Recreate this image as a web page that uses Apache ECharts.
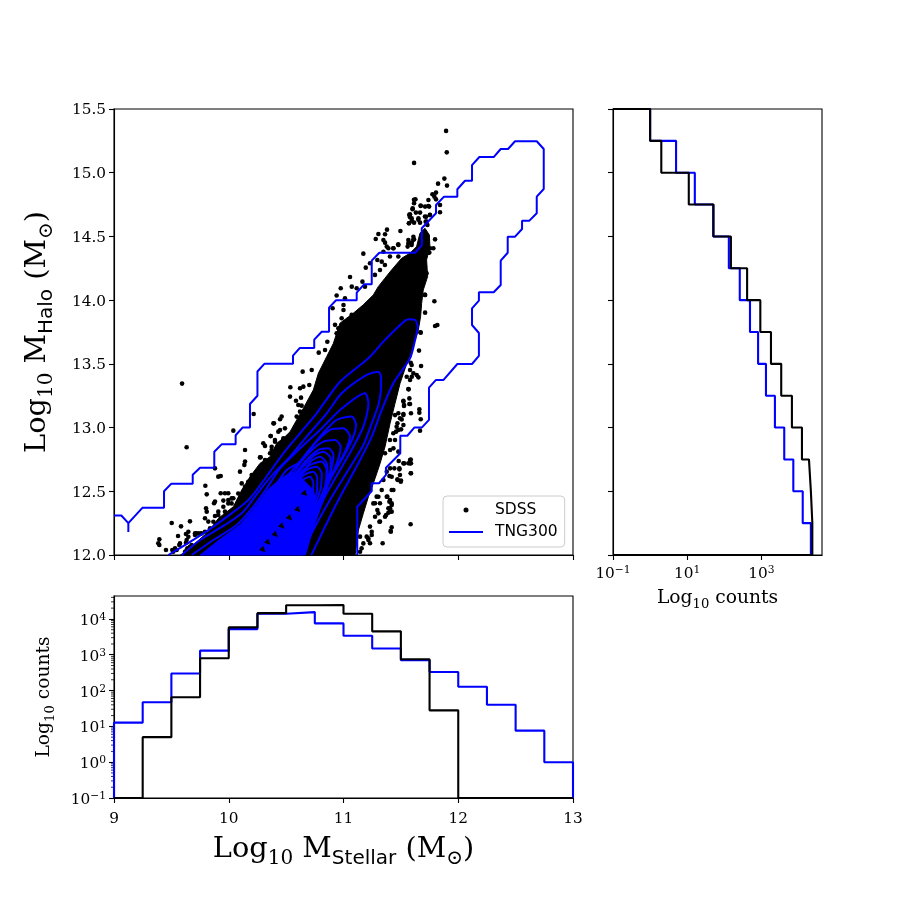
<!DOCTYPE html>
<html>
<head>
<meta charset="utf-8">
<title>SDSS vs TNG300</title>
<script src="https://cdn.jsdelivr.net/npm/echarts@6/dist/echarts.min.js"></script>
<style>
html, body { margin: 0; padding: 0; background: #fff; }
#chart { width: 913px; height: 913px; }
</style>
</head>
<body>
<div id="chart"></div>
<script>
// histogram bins, 0.25 dex wide
var stellarBinStart = 9;
var haloBinStart = 12;
var binWidth = 0.25;
var stellarSdss = [0, 5, 65, 800, 5800, 14500, 24000, 24500, 14000, 4500, 750, 28, 0, 0, 0, 0];
var stellarTng = [12.7, 47, 300, 1300, 5200, 14000, 15500, 7500, 3400, 1500, 700, 330, 128, 40, 7.6, 1];
var haloSdss = [23400, 21400, 19000, 12300, 6600, 3400, 1800, 930, 410, 150, 51, 11, 2, 1];
var haloTng = [21400, 12900, 7200, 4100, 2300, 1320, 810, 490, 260, 132, 50, 16, 5, 1];

var countTicksRight = [0.1, 10, 1000];
var countTicksBottom = [0.1, 1, 10, 100, 1000, 10000];
var countMinorTicks = [0.2, 0.3, 0.4, 0.5, 0.6, 0.7, 0.8, 0.9, 2, 3, 4, 5, 6, 7, 8, 9, 20, 30, 40, 50, 60, 70, 80, 90,
	200, 300, 400, 500, 600, 700, 800, 900, 2000, 3000, 4000, 5000, 6000, 7000, 8000, 9000, 20000, 30000, 40000];

// dense part of the SDSS cloud, outline only
var sdssCore = [[9.58, 12], [9.604, 12.013], [9.706, 12.091], [9.822, 12.183], [9.909, 12.287], [10.04, 12.379],
	[10.113, 12.51], [10.185, 12.614], [10.272, 12.719], [10.36, 12.771], [10.418, 12.876], [10.49, 12.928],
	[10.534, 12.967], [10.65, 13.151], [10.737, 13.295], [10.781, 13.426], [10.854, 13.557], [10.912, 13.661],
	[10.969, 13.819], [11.085, 13.897], [11.172, 13.963], [11.26, 14.041], [11.303, 14.106], [11.361, 14.172],
	[11.419, 14.237], [11.507, 14.329], [11.579, 14.368], [11.637, 14.42], [11.666, 14.525], [11.71, 14.564],
	[11.748, 14.512], [11.753, 14.42], [11.724, 14.316], [11.733, 14.185], [11.695, 14.08], [11.681, 13.976],
	[11.672, 13.871], [11.652, 13.766], [11.624, 13.687], [11.586, 13.582], [11.542, 13.478], [11.493, 13.347],
	[11.449, 13.19], [11.406, 13.033], [11.362, 12.85], [11.319, 12.719], [11.26, 12.562], [11.217, 12.457],
	[11.173, 12.327], [11.13, 12.196], [11.101, 12]];

var sdssPoints = [[11.894, 15.328], [11.9, 15.16], [11.615, 15.077], [11.879, 14.954], [11.824, 14.914], [11.902, 14.899],
	[11.806, 14.844], [11.775, 14.831], [11.792, 14.812], [11.806, 14.791], [11.74, 14.786], [11.627, 14.791],
	[11.615, 14.76], [11.603, 14.721], [11.673, 14.739], [11.711, 14.734], [11.746, 14.734], [11.841, 14.747],
	[11.667, 14.687], [11.841, 14.69], [11.58, 14.674], [11.58, 14.65], [11.72, 14.655], [11.754, 14.668],
	[11.653, 14.642], [11.595, 14.624], [11.571, 14.603], [11.615, 14.608], [11.667, 14.608], [11.716, 14.616],
	[11.731, 14.59], [11.379, 14.553], [11.304, 14.519], [11.362, 14.517], [11.496, 14.543], [11.281, 14.48],
	[11.348, 14.472], [11.362, 14.451], [11.377, 14.42], [11.609, 14.498], [11.565, 14.472], [11.595, 14.451],
	[11.615, 14.477], [11.798, 14.477], [11.565, 14.446], [11.478, 14.433], [11.173, 14.365], [11.231, 14.289],
	[11.295, 14.315], [11.333, 14.302], [11.194, 14.255], [11.057, 14.182], [11.165, 14.145], [11.072, 14.106],
	[11.115, 14.093], [10.976, 14.093], [11.792, 13.991], [11.711, 13.902], [11.798, 13.797], [11.818, 13.805],
	[11.67, 13.748], [11.711, 14.041], [11.435, 14.407], [11.391, 14.407], [11.754, 14.407], [11.783, 14.407],
	[11.74, 14.373], [11.348, 14.38],
	[9.593, 13.345], [9.633, 12.845], [10.04, 12.976], [10.217, 13.107], [10.142, 12.824], [10.142, 12.733],
	[10.136, 12.707], [10.098, 12.654], [9.88, 12.68], [9.909, 12.615], [9.93, 12.62], [9.796, 12.544],
	[9.808, 12.476], [9.93, 12.484], [9.967, 12.484], [9.996, 12.484], [9.88, 12.419], [9.872, 12.406],
	[9.953, 12.427], [10.04, 12.445], [9.996, 12.432], [9.802, 12.366], [9.808, 12.34], [9.909, 12.34],
	[9.88, 12.306], [9.793, 12.288], [9.822, 12.262], [9.662, 12.264], [9.503, 12.251], [9.584, 12.225],
	[9.648, 12.183], [9.627, 12.165], [9.558, 12.149], [9.395, 12.123], [9.386, 12.092], [9.395, 12.079],
	[9.569, 12.079], [9.453, 12.039], [9.508, 12.039], [9.72, 12.17], [9.764, 12.17], [9.639, 12.052],
	[9.619, 12.026], [9.677, 12.079], [10.389, 13.033], [10.461, 13.086], [10.447, 13.065], [10.365, 12.934],
	[10.447, 12.981], [10.49, 12.994], [10.432, 12.968], [10.301, 12.877], [10.316, 12.856], [10.403, 12.903],
	[10.476, 12.916], [10.374, 12.85], [10.418, 12.837], [10.461, 12.863], [10.278, 12.767], [10.316, 12.746],
	[10.36, 12.798], [10.389, 12.811], [10.537, 13.316], [10.534, 13.243], [10.586, 13.211], [10.63, 13.235],
	[10.644, 13.439], [10.723, 13.452], [10.621, 13.308], [10.65, 13.321], [10.702, 13.334], [10.606, 13.177],
	[10.635, 13.172], [10.621, 13.125], [10.592, 13.086], [10.65, 13.112], [10.784, 13.588], [10.839, 13.609],
	[10.859, 13.674],
	[11.676, 13.483], [11.658, 13.604], [11.673, 13.745], [11.638, 13.413], [11.594, 13.491], [11.609, 13.426],
	[11.58, 13.374], [11.568, 13.3], [11.522, 13.204], [11.574, 13.185], [11.527, 13.17], [11.661, 13.143],
	[11.661, 13.117], [11.588, 13.112], [11.673, 13.065], [11.522, 13.099], [11.478, 13.112], [11.492, 13.073],
	[11.522, 13.02], [11.478, 12.981], [11.667, 12.976], [11.463, 13.007], [11.434, 12.955], [11.405, 12.903],
	[11.58, 12.746], [11.588, 12.72], [11.522, 12.72], [11.565, 12.72], [11.481, 12.738], [11.443, 12.68],
	[11.487, 12.68], [11.588, 12.641], [11.492, 12.628], [11.472, 12.589], [11.501, 12.584], [11.42, 12.51],
	[11.382, 12.458], [11.405, 12.432], [11.42, 12.393], [11.391, 12.366], [11.371, 12.314], [11.405, 12.34],
	[11.318, 12.262], [11.585, 12.241], [11.42, 12.217], [11.411, 12.189], [11.341, 12.092], [11.231, 12.223],
	[11.246, 12.183], [11.216, 12.131], [11.231, 12.092], [11.202, 12.144], [11.1, 12.092], [11.057, 12.052],
	[10.999, 12.026], [11.158, 12.052], [11.289, 12.458], [11.318, 12.406], [11.304, 12.327], [11.275, 12.406]];

// dots hugging the edge of the dense part
var sdssFringe = [[11.614, 14.787], [11.672, 14.742], [11.739, 14.739], [11.602, 14.713], [11.631, 14.687], [11.573, 14.669],
	[11.594, 14.643], [11.57, 14.603], [11.652, 14.63], [11.71, 14.656], [11.753, 14.669], [11.724, 14.616],
	[11.434, 14.407], [11.477, 14.439], [11.608, 14.473], [11.559, 14.42], [11.594, 14.433], [11.739, 14.407],
	[11.71, 14.381], [11.748, 14.373], [11.405, 14.342], [11.478, 14.342], [11.724, 14.211], [11.71, 14.263],
	[11.71, 14.041], [11.672, 14.067], [10.94, 14.036], [11.013, 14.015], [10.905, 13.936], [11, 13.962],
	[11, 13.923], [10.984, 13.858], [11.071, 13.884], [10.926, 13.806], [10.955, 13.779], [10.94, 13.74],
	[11.318, 14.237], [11.361, 14.276], [11.274, 14.198], [11.187, 14.106],
	[11.653, 13.394], [11.586, 13.509], [11.58, 13.452], [11.595, 13.399], [11.551, 13.399], [11.565, 13.302],
	[11.522, 13.211], [11.528, 13.177], [11.574, 13.229], [11.58, 13.185], [11.522, 13.106], [11.449, 13.098],
	[11.507, 13.064], [11.47, 13.033], [11.502, 12.986], [11.458, 12.968], [11.449, 12.902], [11.435, 12.837],
	[11.478, 12.811], [11.406, 12.824], [11.586, 12.75], [11.58, 12.719], [11.528, 12.719], [11.487, 12.672],
	[11.586, 12.641], [11.4, 12.62], [11.42, 12.614], [11.47, 12.594], [11.499, 12.575], [11.435, 12.51],
	[11.377, 12.457], [11.4, 12.418], [11.42, 12.405], [11.406, 12.366], [11.391, 12.332], [11.362, 12.3],
	[11.42, 12.34], [11.313, 12.261], [11.412, 12.183], [11.246, 12.157], [11.217, 12.117], [11.144, 12.144],
	[11.173, 12.091], [11.144, 12.026], [11.26, 12.405], [11.295, 12.353], [11.275, 12.3], [11.304, 12.457],
	[11.333, 12.51], [11.348, 12.588], [11.377, 12.654], [11.406, 12.68], [11.362, 12.798],
	[9.735, 12.169], [9.706, 12.157], [9.633, 12.117], [9.627, 12.096], [10.394, 13.033], [10.365, 12.933],
	[10.403, 12.889], [10.432, 12.85], [10.49, 12.85], [10.374, 12.824], [10.272, 12.766], [10.2, 12.627],
	[10.243, 12.64], [10.17, 12.575], [10.113, 12.562], [10.142, 12.536], [10.083, 12.483], [10.025, 12.444],
	[9.996, 12.405], [9.953, 12.379], [9.967, 12.34], [10.025, 12.405], [9.909, 12.313], [9.866, 12.261],
	[9.837, 12.209], [9.895, 12.235], [9.793, 12.183], [9.749, 12.169], [9.706, 12.17], [9.648, 12.143],
	[9.575, 12.091], [9.532, 12.052], [9.662, 12.065], [9.546, 12.039], [9.633, 12.039], [9.517, 12.026]];

// outermost TNG300 level, blocky because of the grid
var tngOuter = [[9, 12.31], [9.064, 12.31], [9.125, 12.25], [9.125, 12.18], [9.125, 12.25], [9.247, 12.37], [9.436, 12.37],
	[9.436, 12.5], [9.5, 12.56], [9.686, 12.56], [9.686, 12.63], [9.75, 12.685], [9.874, 12.685], [9.874, 12.81],
	[9.94, 12.87], [10.06, 12.87], [10.06, 12.94], [10.12, 13], [10.185, 13], [10.185, 13.185], [10.25, 13.25],
	[10.25, 13.44], [10.31, 13.5], [10.56, 13.5], [10.56, 13.565], [10.62, 13.625], [10.745, 13.625], [10.745, 13.69],
	[10.81, 13.752], [10.874, 13.752], [10.874, 13.941], [10.935, 13.999], [11.115, 13.999], [11.115, 14.059],
	[11.179, 14.124], [11.246, 14.124], [11.246, 14.31], [11.312, 14.372], [11.623, 14.372], [11.682, 14.43],
	[11.682, 14.564], [11.806, 14.682], [11.806, 14.747], [11.876, 14.812], [11.992, 14.812], [11.992, 14.87],
	[12.059, 14.937], [12.12, 14.937], [12.12, 15.06], [12.184, 15.123], [12.309, 15.123], [12.37, 15.186],
	[12.434, 15.186], [12.495, 15.247], [12.684, 15.247], [12.745, 15.186], [12.745, 14.872], [12.684, 14.812],
	[12.684, 14.682], [12.62, 14.624], [12.556, 14.624], [12.556, 14.558], [12.495, 14.498], [12.431, 14.498],
	[12.431, 14.372], [12.37, 14.31], [12.37, 14.119], [12.309, 14.062], [12.18, 14.062], [12.18, 13.996],
	[12.12, 13.936], [12.12, 13.805], [12.18, 13.742], [12.18, 13.562], [12.12, 13.499], [11.992, 13.499],
	[11.87, 13.373], [11.804, 13.373], [11.745, 13.313], [11.745, 13.06], [11.682, 13], [11.617, 13], [11.556, 12.936],
	[11.495, 12.936], [11.495, 12.798], [11.37, 12.685], [11.37, 12.628], [11.31, 12.563], [11.246, 12.563],
	[11.246, 12.502], [11.12, 12.379], [11.12, 12]];

// inner levels, outer to inner, each runs from the bottom edge over its apex and back to the bottom edge
var tngLevel2 = [[9.474, 12], [9.691, 12.118], [9.866, 12.223], [10.025, 12.327], [10.156, 12.419], [10.243, 12.51],
	[10.36, 12.654], [10.476, 12.798], [10.621, 12.955], [10.766, 13.112], [10.97, 13.36], [11.217, 13.544],
	[11.347, 13.674], [11.478, 13.792], [11.565, 13.85], [11.624, 13.844], [11.647, 13.792], [11.624, 13.687],
	[11.58, 13.544], [11.434, 13.347], [11.333, 13.138], [11.246, 12.929], [11.129, 12.72], [10.941, 12.406], [10.72, 12]];
var tngLevel3 = [[9.59, 12], [9.75, 12.118], [9.967, 12.236], [10.127, 12.34], [10.272, 12.51], [10.389, 12.636],
	[10.534, 12.772], [10.679, 12.929], [10.854, 13.112], [10.984, 13.269], [11.202, 13.413], [11.304, 13.439],
	[11.327, 13.4], [11.327, 13.321], [11.304, 13.177], [11.246, 13.033], [11.173, 12.863], [11.042, 12.667],
	[10.882, 12.432], [10.708, 12.144], [10.65, 12]];
var tngLevel4 = [[9.677, 12], [9.866, 12.118], [10.069, 12.236], [10.214, 12.38], [10.331, 12.523], [10.447, 12.68],
	[10.592, 12.811], [10.795, 12.981], [10.97, 13.138], [11.187, 13.269], [11.217, 13.19], [11.173, 13.007],
	[11.086, 12.85], [10.97, 12.667], [10.824, 12.432], [10.64, 12]];
var tngLevel5 = [[9.779, 12], [9.953, 12.131], [10.127, 12.249], [10.272, 12.379], [10.389, 12.523], [10.505, 12.667],
	[10.621, 12.733], [10.795, 12.929], [10.94, 13.06], [11.071, 13.086], [11.109, 13.02], [11.086, 12.929],
	[11, 12.772], [10.897, 12.615], [10.766, 12.38], [10.64, 12]];
var tngLevel6 = [[9.851, 12], [10.04, 12.144], [10.243, 12.314], [10.389, 12.484], [10.505, 12.615], [10.621, 12.733],
	[10.737, 12.863], [10.882, 12.981], [10.999, 12.994], [11.057, 12.929], [11.013, 12.811], [10.911, 12.641],
	[10.795, 12.432], [10.63, 12]];
var tngLevel7 = [[9.924, 12], [10.098, 12.144], [10.272, 12.301], [10.389, 12.432], [10.505, 12.563], [10.621, 12.72],
	[10.708, 12.811], [10.824, 12.89], [10.926, 12.903], [10.975, 12.85], [10.941, 12.72], [10.839, 12.51],
	[10.723, 12.223], [10.62, 12]];
var tngLevel8 = [[9.96, 12], [10.11, 12.13], [10.29, 12.29], [10.41, 12.42], [10.53, 12.56], [10.592, 12.65],
	[10.679, 12.746], [10.781, 12.824], [10.868, 12.837], [10.912, 12.785], [10.882, 12.641], [10.781, 12.406],
	[10.694, 12.196], [10.62, 12]];
var tngLevel9 = [[10.548, 12.589], [10.65, 12.693], [10.737, 12.777], [10.824, 12.811], [10.888, 12.759], [10.888, 12.641],
	[10.83, 12.458], [10.737, 12.223], [10.664, 12]];
var tngLevel10 = [[10.563, 12.576], [10.65, 12.654], [10.723, 12.741], [10.795, 12.772], [10.853, 12.72], [10.862, 12.615],
	[10.81, 12.445], [10.714, 12.196], [10.656, 12]];
var tngLevel11 = [[9.996, 12], [10.127, 12.144], [10.301, 12.301], [10.418, 12.432], [10.534, 12.55], [10.621, 12.641],
	[10.708, 12.706], [10.81, 12.733], [10.853, 12.667], [10.839, 12.536], [10.781, 12.38], [10.708, 12.196], [10.65, 12]];
var tngLevel12 = [[10.069, 12], [10.156, 12.118], [10.301, 12.262], [10.403, 12.393], [10.505, 12.51], [10.592, 12.589],
	[10.679, 12.667], [10.766, 12.693], [10.81, 12.641], [10.801, 12.523], [10.737, 12.353], [10.679, 12.17], [10.636, 12]];
var tngLevel13 = [[10.156, 12], [10.272, 12.209], [10.389, 12.353], [10.49, 12.471], [10.578, 12.55], [10.656, 12.628],
	[10.737, 12.654], [10.772, 12.602], [10.766, 12.484], [10.708, 12.327], [10.65, 12.144], [10.621, 12]];
var tngLevel14 = [[10.243, 12], [10.36, 12.301], [10.476, 12.432], [10.563, 12.51], [10.644, 12.589], [10.708, 12.615],
	[10.737, 12.563], [10.731, 12.458], [10.679, 12.301], [10.621, 12.092], [10.606, 12]];
var tngInnerLevels = [tngLevel2, tngLevel3, tngLevel4, tngLevel5, tngLevel6, tngLevel7, tngLevel8, tngLevel9,
	tngLevel10, tngLevel11, tngLevel12, tngLevel13, tngLevel14];

// where the contour lines merge into solid blue
var tngSolid = [[9.75, 12], [9.924, 12.123], [10.098, 12.236], [10.243, 12.393], [10.345, 12.516], [10.447, 12.594],
	[10.548, 12.654], [10.621, 12.615], [10.694, 12.55], [10.737, 12.51], [10.766, 12.419], [10.737, 12.301],
	[10.679, 12.144], [10.636, 12]];
// small black gaps left between merged contours
var tngGaps = [[10.467, 12.223], [10.409, 12.157], [10.345, 12.097], [10.301, 12.039], [10.665, 12.479], [10.606, 12.353], [10.534, 12.288]];

var serif = '"DejaVu Serif"';
var sans = '"DejaVu Sans"';
var black = '#000';
var blue = '#0000ff';

function stepX(counts) {
	var pts = [[stellarBinStart, 0.1]];
	for (var i = 0; i < counts.length; i++) {
		var lo = stellarBinStart + i * binWidth;
		pts.push([lo, Math.max(counts[i], 0.1)]);
		pts.push([lo + binWidth, Math.max(counts[i], 0.1)]);
	}
	pts.push([13, 0.1]);
	return pts;
}

function stepY(counts) {
	var pts = [[0.1, haloBinStart]];
	for (var i = 0; i < counts.length; i++) {
		var lo = haloBinStart + i * binWidth;
		pts.push([counts[i], lo]);
		pts.push([counts[i], lo + binWidth]);
	}
	pts.push([0.1, 15.5]);
	return pts;
}

function powLabel(v) {
	var e = Math.round(Math.log(v) / Math.LN10);
	return '{base|10}{sup|' + (e < 0 ? '\u2212' + (-e) : e) + '}';
}

var tickRich = {
	n: { fontFamily: serif, fontSize: 15.3, color: black, lineHeight: 18 },
	base: { fontFamily: serif, fontSize: 15.3, color: black, lineHeight: 18 },
	sup: { fontFamily: serif, fontSize: 10.7, color: black, lineHeight: 8, verticalAlign: 'top' }
};
var bigRich = {
	t: { fontFamily: serif, fontSize: 28.8, color: black, lineHeight: 38 },
	s: { fontFamily: serif, fontSize: 20, color: black, lineHeight: 32, verticalAlign: 'bottom' },
	ss: { fontFamily: sans, fontSize: 20, color: black, lineHeight: 32, verticalAlign: 'bottom' }
};
var smallRich = {
	t: { fontFamily: serif, fontSize: 18.7, color: black, lineHeight: 26 },
	s: { fontFamily: serif, fontSize: 13.1, color: black, lineHeight: 21, verticalAlign: 'bottom' }
};

var tickStyle = { show: true, length: 5, lineStyle: { color: black, width: 1.1 } };
var lineAxis = { show: true, lineStyle: { color: black, width: 1.1 } };

function levelSeries(pts, name, smooth) {
	return {
		name: name,
		type: 'line',
		xAxisIndex: 0,
		yAxisIndex: 0,
		data: pts,
		symbol: 'none',
		smooth: smooth,
		z: 4,
		lineStyle: { color: blue, width: 2 },
		itemStyle: { color: blue }
	};
}

function polySeries(pts, color, z) {
	return {
		type: 'custom',
		xAxisIndex: 0,
		yAxisIndex: 0,
		z: z,
		data: pts,
		silent: true,
		renderItem: function(params, api) {
			if (params.dataIndex > 0) {
				return null;
			}
			return {
				type: 'polygon',
				shape: { points: pts.map(function(p) { return api.coord(p); }) },
				style: { fill: color, stroke: color, lineWidth: 1 }
			};
		}
	};
}

function histSeries(pts, color, xi, yi, z) {
	return {
		type: 'line',
		xAxisIndex: xi,
		yAxisIndex: yi,
		data: pts,
		symbol: 'none',
		z: z,
		lineStyle: { color: color, width: 2.1 }
	};
}

var series = [
	polySeries(sdssCore, black, 2),
	{
		name: 'SDSS',
		type: 'scatter',
		xAxisIndex: 0,
		yAxisIndex: 0,
		data: sdssPoints.concat(sdssFringe),
		symbolSize: 4.6,
		z: 2,
		itemStyle: { color: black, opacity: 1 }
	},
	polySeries(tngSolid, blue, 3),
	levelSeries(tngOuter, 'TNG300', false)
];
tngInnerLevels.forEach(function(level) {
	series.push(levelSeries(level, 'TNG300 level', 0.25));
});
series.push({
	type: 'scatter',
	xAxisIndex: 0,
	yAxisIndex: 0,
	data: tngGaps,
	symbol: 'triangle',
	symbolSize: 6,
	symbolRotate: -135,
	z: 5,
	silent: true,
	itemStyle: { color: black, opacity: 1 }
});
series.push(histSeries(stepY(haloTng), blue, 1, 1, 3));
series.push(histSeries(stepY(haloSdss), black, 1, 1, 4));
series.push(histSeries(stepX(stellarTng), blue, 2, 2, 3));
series.push(histSeries(stepX(stellarSdss), black, 2, 2, 4));
// log minor ticks on the lower panel
series.push({
	type: 'custom',
	xAxisIndex: 2,
	yAxisIndex: 2,
	data: countMinorTicks,
	clip: false,
	silent: true,
	encode: { y: 0 },
	renderItem: function(params, api) {
		var p = api.coord([9, countMinorTicks[params.dataIndex]]);
		return {
			type: 'line',
			shape: { x1: p[0] - 3, y1: p[1], x2: p[0], y2: p[1] },
			style: { stroke: black, lineWidth: 0.8 }
		};
	}
});

var option = {
	backgroundColor: '#fff',
	animation: false,
	legend: {
		data: [{ name: 'SDSS', icon: 'circle' }, { name: 'TNG300', itemStyle: { opacity: 0 } }],
		left: 443,
		top: 496,
		orient: 'vertical',
		itemWidth: 34,
		itemHeight: 5,
		itemGap: 6,
		padding: [6, 7, 7, 5],
		backgroundColor: 'rgba(255,255,255,0.8)',
		borderColor: '#ccc',
		borderWidth: 1,
		borderRadius: 4,
		selectedMode: false,
		textStyle: { fontFamily: sans, fontSize: 15.5, color: black, padding: [0, 0, 0, 7] }
	},
	grid: [
		{ left: 114, top: 109, width: 459, height: 446, show: true, borderColor: black, borderWidth: 1.1, backgroundColor: '#fff' },
		{ left: 613, top: 109, width: 209, height: 446, show: true, borderColor: black, borderWidth: 1.1, backgroundColor: '#fff' },
		{ left: 114, top: 596, width: 459, height: 202, show: true, borderColor: black, borderWidth: 1.1, backgroundColor: '#fff' }
	],
	xAxis: [
		{
			gridIndex: 0, type: 'value', min: 9, max: 13, interval: 1,
			axisLine: lineAxis, axisTick: tickStyle, axisLabel: { show: false }, splitLine: { show: false }
		},
		{
			gridIndex: 1, type: 'log', logBase: 10, min: 0.1, max: 42658,
			axisLine: lineAxis,
			axisTick: { show: true, length: 5, lineStyle: { color: black, width: 1.1 }, customValues: countTicksRight },
			minorTick: { show: false },
			axisLabel: { show: true, margin: 10, customValues: countTicksRight, formatter: powLabel, rich: tickRich },
			splitLine: { show: false },
			name: '{t|Log}{s|10}{t| counts}',
			nameLocation: 'middle',
			nameGap: 30,
			nameTextStyle: { rich: smallRich }
		},
		{
			gridIndex: 2, type: 'value', min: 9, max: 13, interval: 1,
			axisLine: lineAxis, axisTick: tickStyle,
			axisLabel: {
				show: true, margin: 12, hideOverlap: false, showMinLabel: true, showMaxLabel: true, rich: tickRich,
				formatter: function(v) { return '{n|' + v + '}'; }
			},
			splitLine: { show: false },
			name: '{t|Log}{s|10}{t| M}{ss|Stellar}{t| (M}{s|\u2299}{t|)}',
			nameLocation: 'middle',
			nameGap: 33,
			nameTextStyle: { rich: bigRich }
		}
	],
	yAxis: [
		{
			gridIndex: 0, type: 'value', min: 12, max: 15.5, interval: 0.5,
			axisLine: lineAxis, axisTick: tickStyle,
			axisLabel: {
				show: true, margin: 8, padding: [3, 0, 0, 0], rich: tickRich,
				formatter: function(v) { return '{n|' + v.toFixed(1) + '}'; }
			},
			splitLine: { show: false },
			name: '{t|Log}{s|10}{t| M}{ss|Halo}{t| (M}{s|\u2299}{t|)}',
			nameLocation: 'middle',
			nameRotate: 90,
			nameGap: 57,
			nameTextStyle: { rich: bigRich }
		},
		{
			gridIndex: 1, type: 'value', min: 12, max: 15.5, interval: 0.5,
			axisLine: lineAxis, axisTick: tickStyle, axisLabel: { show: false }, splitLine: { show: false }
		},
		{
			gridIndex: 2, type: 'log', logBase: 10, min: 0.1, max: 43650,
			axisLine: lineAxis,
			axisTick: { show: true, length: 5, lineStyle: { color: black, width: 1.1 }, customValues: countTicksBottom },
			minorTick: { show: false },
			axisLabel: { show: true, margin: 8, padding: [4, 0, 0, 0], customValues: countTicksBottom, formatter: powLabel, rich: tickRich },
			splitLine: { show: false },
			name: '{t|Log}{s|10}{t| counts}',
			nameLocation: 'middle',
			nameRotate: 90,
			nameGap: 57,
			nameTextStyle: { rich: smallRich }
		}
	],
	series: series
};

var myChart = echarts.init(document.getElementById('chart'));
myChart.setOption(option);
</script>
</body>
</html>
